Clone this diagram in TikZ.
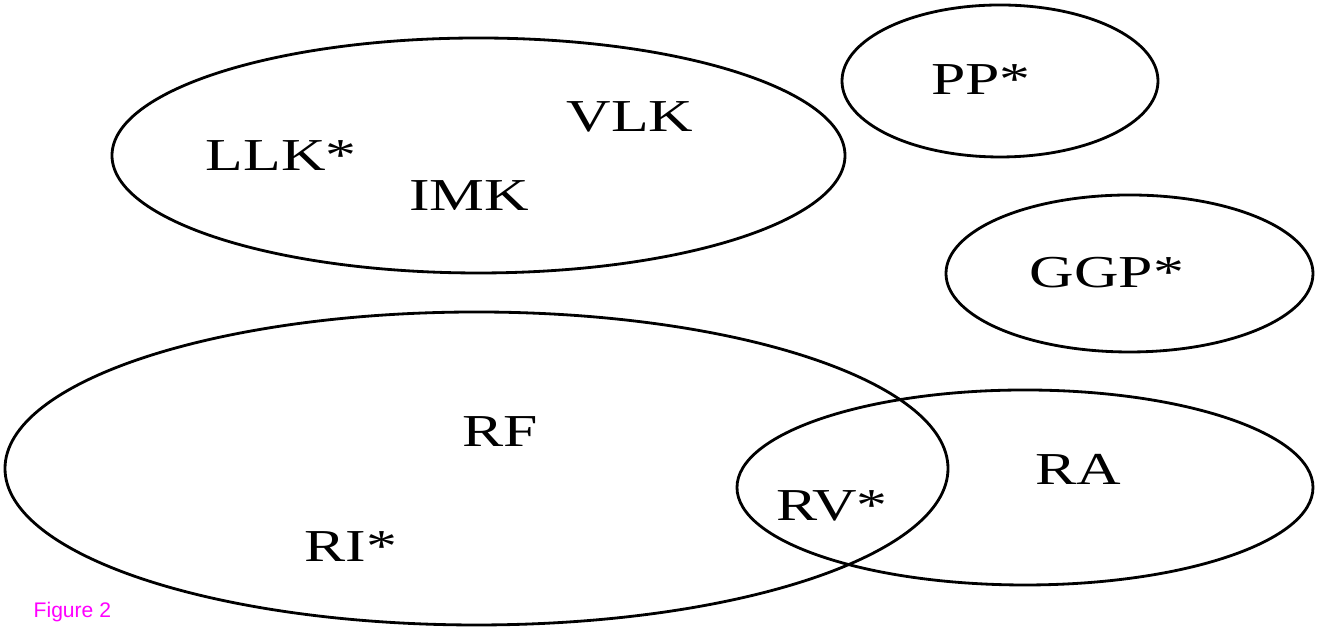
\documentclass[tikz,border=0pt]{standalone}
\usepackage{fontspec}
\usepackage{tikz}
\usepackage{xcolor}
\newfontfamily\lblfont[FakeStretch=1.35]{Liberation Serif}
\newfontfamily\capfont{Liberation Sans}
\definecolor{capmagenta}{RGB}{255,0,255}
\tikzset{
    lbl/.style={font=\lblfont\fontsize{13}{15}\selectfont, inner sep=0pt},
    set/.style={line width=0.8pt}
}

\begin{document}
\begin{tikzpicture}
        \useasboundingbox (0, 0) rectangle (13.18, 6.30);
        % Draw the sets
        \draw [set] (4.785, 4.745) ellipse (3.665 and 1.175);
        \draw [set] (10.00, 5.49) ellipse (1.58 and 0.76);
        \draw [set] (11.295, 3.565) ellipse (1.835 and 0.785);
        \draw [set] (4.765, 1.615) ellipse (4.715 and 1.565);
        \draw [set] (10.25, 1.425) ellipse (2.88 and 0.975);
        % Labels
        \node [lbl] (llk) at (2.81, 4.74) {LLK*};
        \node [lbl] (vlk) at (6.30, 5.13) {VLK};
        \node [lbl] (imk) at (4.69, 4.34) {IMK};
        \node [lbl] (pp) at (9.81, 5.50) {PP*};
        \node [lbl] (ggp) at (11.07, 3.57) {GGP*};
        \node [lbl] (rf) at (5.00, 1.98) {RF};
        \node [lbl] (ra) at (10.78, 1.61) {RA};
        \node [lbl] (rv) at (8.32, 1.24) {RV*};
        \node [lbl] (ri) at (3.51, 0.83) {RI*};
        % Caption
        \node [font=\capfont\fontsize{6}{7}\selectfont, text=capmagenta, anchor=west, inner sep=0pt] (cap) at (0.33, 0.18) {Figure 2};
    \end{tikzpicture}
\end{document}
